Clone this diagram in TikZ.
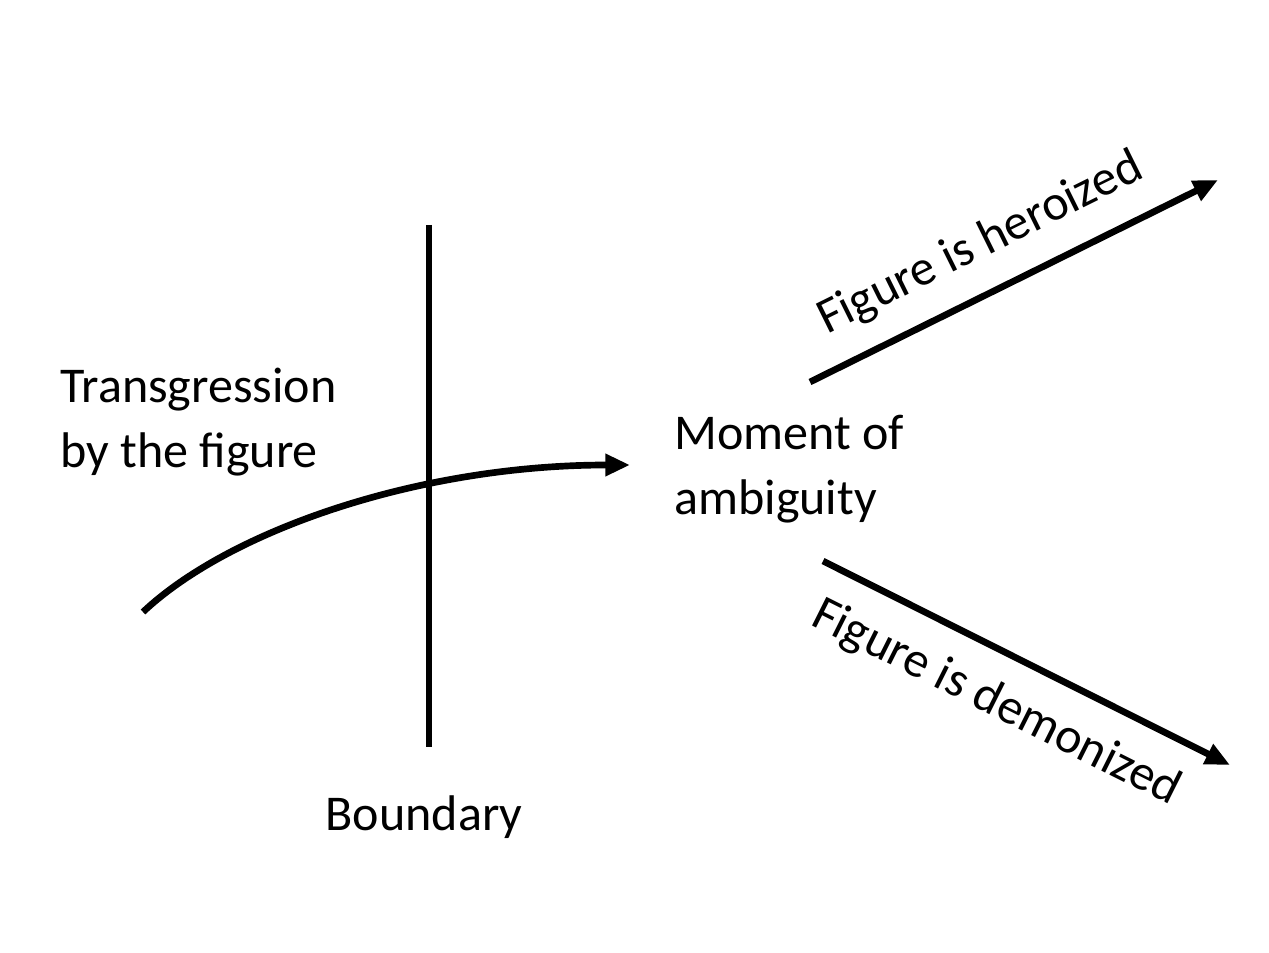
\documentclass[tikz,border=0pt]{standalone}
\usepackage{fontspec}
\setmainfont{Carlito}
\usetikzlibrary{arrows.meta, positioning}

\begin{document}
\begin{tikzpicture}[
    x=0.02cm, y=-0.02cm,
    label/.style={
        align=left,
        inner sep=0pt,
        font=\fontsize{28.5}{37}\selectfont
    },
    thickline/.style={line width=3.8pt},
    arrow/.style={-{Triangle[length=14pt,width=12pt]}, line width=3.8pt}
]
\useasboundingbox (0,0) rectangle (1269,953);

% boundary
\coordinate (btop) at (429,225);
\coordinate (bbot) at (429,747);
\node[label, anchor=base] (boundary) at (424,830) {Boundary};

% texts
\node[label, anchor=north west] (trans) at (60,368) {Transgression\\by the figure};
\node[label, anchor=north west] (moment) at (674,415) {Moment of\\ambiguity};

% arrow end points
\coordinate (cstart) at (143,612);
\coordinate (cend) at (630,465);
\coordinate (hstart) at (810,382);
\coordinate (hend) at (1218,180);
\coordinate (dstart) at (823,561);
\coordinate (dend) at (1230,765);

\draw[thickline] (btop) -- (bbot);
\draw[arrow] (cstart) .. controls (230,530) and (420,465) .. (cend);

\draw[arrow] (hstart) -- node[label, pos=0.47, sloped, above=13pt] (hero) {Figure is heroized} (hend);
\draw[arrow] (dstart) -- node[label, pos=0.48, sloped, below=14pt] (demon) {Figure is demonized} (dend);

\end{tikzpicture}
\end{document}
